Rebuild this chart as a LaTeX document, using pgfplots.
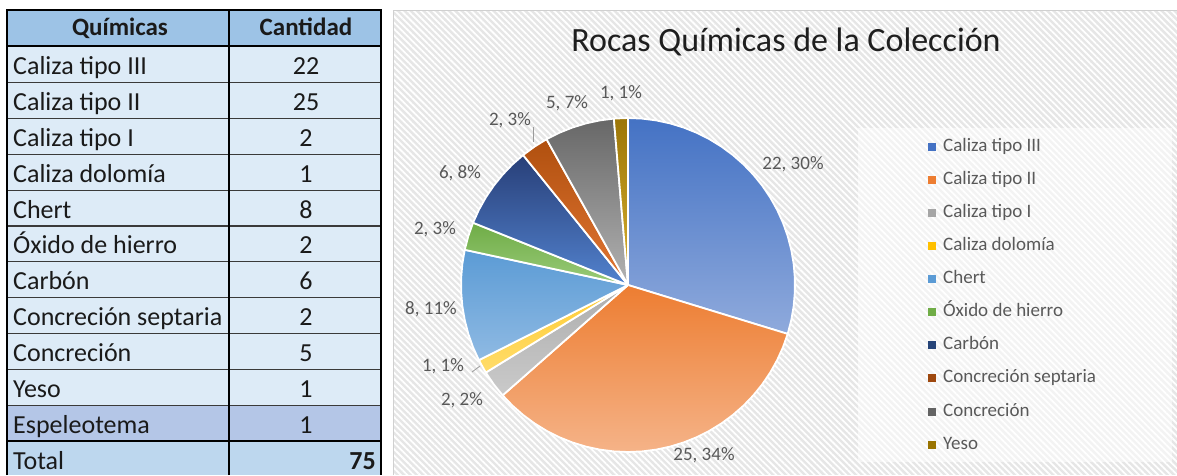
\documentclass[border=0pt]{standalone}
\usepackage{pgfplots}
\pgfplotsset{compat=1.18}
\usepackage{fontspec}
\setmainfont{Carlito}
\usetikzlibrary{patterns.meta}
\newcommand{\fs}[1]{\fontsize{#1}{#1}\selectfont}
\definecolor{c1}{HTML}{4472C4}
\definecolor{c2}{HTML}{ED7D31}
\definecolor{c3}{HTML}{A5A5A5}
\definecolor{c4}{HTML}{FFC000}
\definecolor{c5}{HTML}{5B9BD5}
\definecolor{c6}{HTML}{70AD47}
\definecolor{c7}{HTML}{264478}
\definecolor{c8}{HTML}{9E480E}
\definecolor{c9}{HTML}{636363}
\definecolor{c10}{HTML}{997300}
% gradient ends (top / bottom) of each slice
\definecolor{t1}{HTML}{4472C4}\definecolor{b1}{HTML}{8FAADC}
\definecolor{t2}{HTML}{ED7D31}\definecolor{b2}{HTML}{F5B388}
\definecolor{t3}{HTML}{ADADAD}\definecolor{b3}{HTML}{CACACA}
\definecolor{t4}{HTML}{FFCC33}\definecolor{b4}{HTML}{FFDC6A}
\definecolor{t5}{HTML}{5B9BD5}\definecolor{b5}{HTML}{8FBAE3}
\definecolor{t6}{HTML}{6FAC46}\definecolor{b6}{HTML}{9ACB7A}
\definecolor{t7}{HTML}{283F78}\definecolor{b7}{HTML}{5282CE}
\definecolor{t8}{HTML}{B0500F}\definecolor{b8}{HTML}{E27634}
\definecolor{t9}{HTML}{676767}\definecolor{b9}{HTML}{B2B2B2}
\definecolor{t10}{HTML}{9C7608}\definecolor{b10}{HTML}{D8B02E}
\definecolor{hdrblue}{HTML}{9DC3E6}
\definecolor{rowblue}{HTML}{DDEBF7}
\definecolor{espblue}{HTML}{B4C6E7}
\definecolor{totblue}{HTML}{BDD7EE}
\definecolor{linegray}{HTML}{3A3A3A}
\definecolor{bggray}{HTML}{E6E6E6}
\definecolor{bordgray}{HTML}{D0D0D0}
\definecolor{lblgray}{HTML}{595959}
\definecolor{titlec}{HTML}{1E1E1E}
\definecolor{txt}{HTML}{1A1A1A}

% pie slice from cumulative unit #1 to #2 (74 units = 360 degrees), clockwise from 12 o'clock
\newcommand{\pieslice}[4]{%
  \gdef\slicepts{(0,0)}%
  \pgfplotsforeachungrouped \k in {#1,...,#2}{%
    \pgfmathsetmacro\ang{90-\k*4.864865}%
    \xdef\slicepts{\slicepts (\ang,1)}%
  }%
  \xdef\slicepts{\slicepts (0,0)}%
  \edef\doplot{\noexpand\addplot[forget plot, data cs=polar, draw=white, line width=1.8pt, line join=round, top color=#3, bottom color=#4] coordinates {\slicepts};}%
  \doplot
}

\begin{document}
\begin{tikzpicture}
\begin{scope}[x=1pt,y=1pt]
\path[use as bounding box] (0,0) rectangle (1177,475);
\fill[white] (0,0) rectangle (1177,475);
% chart area background
\fill[bggray] (393,0) rectangle (1177,465);
\fill[pattern={Lines[angle=-45,distance=4.5pt,line width=1.8pt]}, pattern color=white] (393,0) rectangle (1177,465);
\draw[bordgray, line width=0.8pt] (393,0) -- (393,465) -- (1177,465);
% legend box
\fill[white, opacity=0.55] (858,13) rectangle (1172,347);
% table
\fill[hdrblue] (7,465) rectangle (381,475-46.5);
\fill[rowblue] (7,475-46.5) rectangle (381,475-405.5);
\fill[espblue] (7,475-405.5) rectangle (381,475-441.4);
\fill[totblue] (7,475-441.4) rectangle (381,0);
\foreach \k in {1,...,10} \draw[linegray, line width=1.1pt] (7,475-46.5-35.9*\k) -- (381,475-46.5-35.9*\k);
\draw[black, line width=2pt] (7,475-46.5) -- (381,475-46.5);
\draw[black, line width=2pt] (7,475-441.4) -- (381,475-441.4);
\draw[black, line width=2pt] (229,0) -- (229,465);
\draw[black, line width=2.2pt] (7,0) -- (7,465) -- (381,465) -- (381,0);
\node[anchor=base, font=\bfseries\fs{25}, text=txt, inner sep=0pt] at (120,475-35.5) {Químicas};
\node[anchor=base, font=\bfseries\fs{25}, text=txt, inner sep=0pt] at (306,475-35.5) {Cantidad};
\foreach \n/\v [count=\i from 0] in {Caliza tipo III/22, Caliza tipo II/25, Caliza tipo I/2, Caliza dolomía/1, Chert/8, Óxido de hierro/2, Carbón/6, Concreción septaria/2, Concreción/5, Yeso/1, Espeleotema/1}{
  \node[anchor=base west, font=\fs{26}, text=txt, inner sep=0pt] at (13,475-46.5-35.9*\i-27.9) {\n};
  \node[anchor=base, font=\fs{26}, text=txt, inner sep=0pt] at (306,475-46.5-35.9*\i-27.9) {\v};
}
\node[anchor=base west, font=\fs{26}, text=txt, inner sep=0pt] at (13,475-469.3) {Total};
\node[anchor=base east, font=\bfseries\fs{26}, text=txt, inner sep=0pt] at (376,475-469.3) {75};
\end{scope}

\begin{axis}[
  at={(628pt,190pt)}, anchor=center,
  width=334pt, height=334pt, scale only axis,
  xmin=-1, xmax=1, ymin=-1, ymax=1,
  hide axis, clip=false,
  title={Rocas Químicas de la Colección},
  title style={at={(axis description cs:0.9731,1.1826)}, anchor=base, font=\fs{34}, text=titlec, inner sep=0pt},
  legend style={at={(axis description cs:1.3982,0.9401)}, anchor=north west, draw=none, fill=none, inner sep=0pt,
    font=\fs{19}, text=lblgray, column sep=7pt, row sep=16.1pt,
    nodes={inner sep=0pt, text height=13pt, text depth=4pt}},
  legend cell align=left,
  legend image code/.code={\fill[#1,draw=none] (0pt,-4pt) rectangle (8pt,4pt);},
]
\pieslice{0}{22}{t1}{b1}
\pieslice{22}{47}{t2}{b2}
\pieslice{47}{49}{t3}{b3}
\pieslice{49}{50}{t4}{b4}
\pieslice{50}{58}{t5}{b5}
\pieslice{58}{60}{t6}{b6}
\pieslice{60}{66}{t7}{b7}
\pieslice{66}{68}{t8}{b8}
\pieslice{68}{73}{t9}{b9}
\pieslice{73}{74}{t10}{b10}

\addplot[forget plot, only marks, mark=none, point meta=explicit symbolic, nodes near coords,
  nodes near coords style={anchor=center, font=\fs{19}, text=lblgray, inner sep=0pt}] coordinates {
  (0.988,0.725) [22, 30\%]
  (0.455,-1.018) [25, 34\%]
  (-0.994,-0.689) [2, 2\%]
  (-1.108,-0.485) [1, 1\%]
  (-1.180,-0.144) [8, 11\%]
  (-1.156,0.335) [2, 3\%]
  (-1.006,0.671) [6, 8\%]
  (-0.707,0.988) [2, 3\%]
  (-0.365,1.090) [5, 7\%]
  (-0.042,1.150) [1, 1\%]
};
\draw[lblgray!60, line width=0.8pt] (axis cs:-0.569,0.946) -- (axis cs:-0.569,0.856);
\draw[lblgray!60, line width=0.8pt] (axis cs:-0.934,-0.521) -- (axis cs:-0.886,-0.485);

\addlegendimage{fill=c1}\addlegendentry{Caliza tipo III}
\addlegendimage{fill=c2}\addlegendentry{Caliza tipo II}
\addlegendimage{fill=c3}\addlegendentry{Caliza tipo I}
\addlegendimage{fill=c4}\addlegendentry{Caliza dolomía}
\addlegendimage{fill=c5}\addlegendentry{Chert}
\addlegendimage{fill=c6}\addlegendentry{Óxido de hierro}
\addlegendimage{fill=c7}\addlegendentry{Carbón}
\addlegendimage{fill=c8}\addlegendentry{Concreción septaria}
\addlegendimage{fill=c9}\addlegendentry{Concreción}
\addlegendimage{fill=c10}\addlegendentry{Yeso}
\end{axis}
\end{tikzpicture}
\end{document}
